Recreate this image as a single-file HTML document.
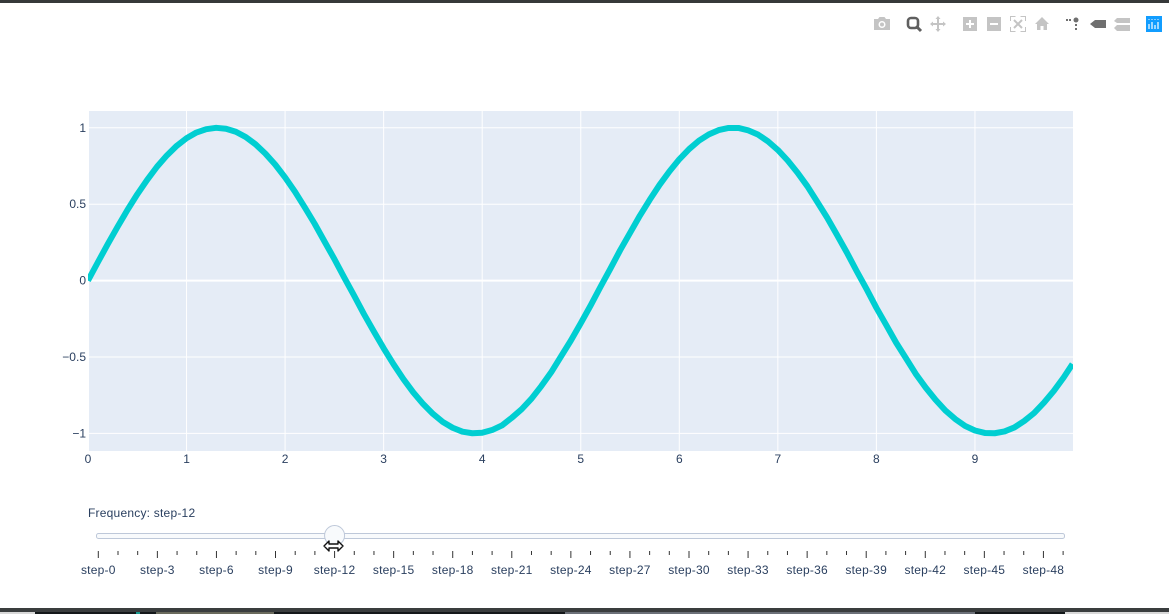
<!DOCTYPE html>
<html>
<head>
<meta charset="utf-8">
<title>Frequency slider chart</title>
<style>
html,body{margin:0;padding:0;width:1169px;height:614px;overflow:hidden;background:#fff;}
svg{display:block;position:absolute;left:0;top:0;}
text{font-family:"Liberation Sans",sans-serif;font-size:12px;fill:#2a3f5f;}
.wide{letter-spacing:0.22px;}
</style>
</head>
<body>
<svg id="chart" xmlns="http://www.w3.org/2000/svg" width="1169" height="614" viewBox="0 0 1169 614">
  <defs><clipPath id="plot-clip"><rect x="88" y="111" width="985" height="340"/></clipPath></defs>
  <rect x="0" y="0" width="1169" height="3" fill="#36393a"/>
  <rect x="0" y="608" width="1169" height="4" fill="#3a3d3e"/>
  <rect x="0" y="612" width="1169" height="2" fill="#14181a"/>
  <rect x="0" y="612" width="35" height="2" fill="#d8d8d8"/>
  <rect x="1065" y="612" width="104" height="2" fill="#d8d8d8"/>
  <rect x="136" y="612" width="4" height="2" fill="#1a9a90"/>
  <rect x="156" y="612" width="118" height="2" fill="#6a6a5c"/>
  <rect x="565" y="612" width="410" height="2" fill="#6c7078"/>
  <rect x="88" y="111" width="985" height="340" fill="#E5ECF6"/>
  <g id="grid"></g>
  <g id="series" clip-path="url(#plot-clip)"></g>
  <g id="xticks"></g>
  <g id="yticks"></g>

  <text class="wide" x="88" y="517">Frequency: step-12</text>
  <rect x="96.5" y="533.5" width="968" height="5" rx="2" fill="#f8fafc" stroke="#bec8d9" stroke-width="1"/>
  <g id="slider-steps"></g>
  <circle id="slider-handle" cx="334" cy="535.5" r="10" fill="#f8fafc" stroke="#bec8d9" stroke-width="1"/>
  <path d="M324 546 L329 541 L329 544 L338 544 L338 541 L343 546 L338 551 L338 548 L329 548 L329 551 Z" fill="#fff" stroke="#111" stroke-width="1.4" stroke-linejoin="round"/>

  <g>
    <g>
      <path d="M874 19h4l1.500-2h5l1.500 2h4v11h-16z" fill="#c4c4c4"/><circle cx="882" cy="24.500" r="3.500" fill="#fff"/><circle cx="882" cy="24.500" r="2" fill="#c4c4c4"/>
    </g>
    <g>
      <rect x="908" y="18" width="10" height="10" rx="3" fill="none" stroke="#5f5f5f" stroke-width="2.600"/><path d="M916 26l5 5" stroke="#5f5f5f" stroke-width="3"/>
    </g>
    <g>
      <path d="M938 17v14M931 24h14" stroke="#c4c4c4" stroke-width="2"/><path d="M938 16l-2.500 3h5zM938 32l-2.500-3h5zM930 24l3-2.500v5zM946 24l-3-2.500v5z" fill="#c4c4c4"/>
    </g>
    <g>
      <rect x="963" y="17" width="14" height="14" fill="#c4c4c4"/><path d="M970 20v8M966 24h8" stroke="#fff" stroke-width="2"/>
    </g>
    <g>
      <rect x="987" y="17" width="14" height="14" fill="#c4c4c4"/><path d="M990 24h8" stroke="#fff" stroke-width="2"/>
    </g>
    <g fill="none" stroke="#c4c4c4">
      <path d="M1010.500 21v-4.500h5M1020.500 16.500h5v4.500M1025.500 27v4.500h-5M1015.500 31.500h-5v-4.500"/><path d="M1014 20l8 8M1022 20l-8 8" stroke-width="2"/>
    </g>
    <g>
      <path d="M1035 24l7-7 7 7h-2v6h-3.500v-4h-3v4h-3.500v-6z" fill="#c4c4c4"/>
    </g>
    <g fill="#6f6f6f">
      <rect x="1066" y="19" width="2" height="2"/><rect x="1069" y="19" width="2" height="2"/><circle cx="1076" cy="20" r="2.500"/><rect x="1075" y="24" width="2" height="2"/><rect x="1075" y="28" width="2" height="2"/>
    </g>
    <g>
      <path d="M1090 24l5-4h11v8h-11z" fill="#6f6f6f"/>
    </g>
    <g fill="#c4c4c4">
      <path d="M1114 21l3-3h13v5h-13z"/><path d="M1114 28l3-3h13v6h-13z"/>
    </g>
    <g>
      <rect x="1146" y="16" width="16" height="16" fill="#119dff"/>
      <path d="M1149 24v5M1152 22v7M1155 25v4M1158 22v7" stroke="#fff" stroke-width="1.200"/>
      <path d="M1149 19v1M1152 19v1M1155 19v1M1158 19v1" stroke="#cde9ff" stroke-width="1.200"/>
    </g>
  </g>
</svg>
<script>
// Chart data
const xValues = [0,0.1,0.2,0.3,0.4,0.5,0.6,0.7,0.8,0.9,1.0,1.1,1.2,1.3,1.4,1.5,1.6,1.7,1.8,1.9,2.0,2.1,2.2,2.3,2.4,2.5,2.6,2.7,2.8,2.9,3.0,3.1,3.2,3.3,3.4,3.5,3.6,3.7,3.8,3.9,4.0,4.1,4.2,4.3,4.4,4.5,4.6,4.7,4.8,4.9,5.0,5.1,5.2,5.3,5.4,5.5,5.6,5.7,5.8,5.9,6.0,6.1,6.2,6.3,6.4,6.5,6.6,6.7,6.8,6.9,7.0,7.1,7.2,7.3,7.4,7.5,7.6,7.7,7.8,7.9,8.0,8.1,8.2,8.3,8.4,8.5,8.6,8.7,8.8,8.9,9.0,9.1,9.2,9.3,9.4,9.5,9.6,9.7,9.8,9.9,9.99];
const yValues = [0,0.120,0.238,0.352,0.462,0.565,0.659,0.745,0.819,0.882,0.932,0.969,0.991,1.000,0.994,0.974,0.940,0.892,0.831,0.759,0.675,0.582,0.479,0.372,0.256,0.141,0.020,-0.098,-0.219,-0.332,-0.443,-0.547,-0.644,-0.731,-0.807,-0.872,-0.925,-0.963,-0.989,-0.999,-0.996,-0.978,-0.948,-0.898,-0.842,-0.773,-0.690,-0.600,-0.496,-0.392,-0.279,-0.163,-0.041,0.077,0.199,0.312,0.425,0.529,0.627,0.715,0.794,0.861,0.916,0.957,0.985,0.999,0.999,0.983,0.955,0.911,0.855,0.786,0.706,0.617,0.515,0.412,0.299,0.184,0.062,-0.055,-0.178,-0.291,-0.406,-0.508,-0.611,-0.700,-0.780,-0.850,-0.906,-0.951,-0.981,-0.997,-0.999,-0.987,-0.961,-0.919,-0.867,-0.799,-0.722,-0.634,-0.546];
const xTicks = [0,1,2,3,4,5,6,7,8,9];
const yTicks = [1,0.5,0,-0.5,-1];
const yTickLabels = ['1','0.5','0','\u22120.5','\u22121'];
const sliderSteps = [0,1,2,3,4,5,6,7,8,9,10,11,12,13,14,15,16,17,18,19,20,21,22,23,24,25,26,27,28,29,30,31,32,33,34,35,36,37,38,39,40,41,42,43,44,45,46,47,48,49];
const sliderActive = 12;

const NS = 'http://www.w3.org/2000/svg';
function xScale(v){ return 88 + v * 98.55; }
function yScale(v){ return 280.6 - v * 152.8; }
function stepScale(i){ return 98.3 + i * 19.69; }
function make(tag, parent, attrs){
  const el = document.createElementNS(NS, tag);
  for (const k in attrs) el.setAttribute(k, attrs[k]);
  parent.appendChild(el);
  return el;
}

const grid = document.getElementById('grid');
xTicks.forEach(function(t){
  const line = make('line', grid, {x1:xScale(t), x2:xScale(t), y1:111, y2:451, stroke:'#fff', 'stroke-width': t === 0 ? 2 : 1});
  
  
});
yTicks.forEach(function(t){
  const line = make('line', grid, {x1:88, x2:1073, y1:yScale(t), y2:yScale(t), stroke:'#fff', 'stroke-width': t === 0 ? 2 : 1});
  
  
});

const xGroup = document.getElementById('xticks');
xTicks.forEach(function(t){
  const label = make('text', xGroup, {x:xScale(t), y:463, 'text-anchor':'middle'});
  label.textContent = String(t);
  
  
});
const yGroup = document.getElementById('yticks');
yTicks.forEach(function(t, i){
  const label = make('text', yGroup, {x:86, y:yScale(t) + 4, 'text-anchor':'end'});
  label.textContent = yTickLabels[i];
  
  
});

const path = xValues.map(function(x, i){
  return (i ? 'L' : 'M') + xScale(x).toFixed(2) + ' ' + yScale(yValues[i]).toFixed(2);
}).join(' ');
const curve = make('path', document.getElementById('series'), {d:path, fill:'none', stroke:'#00CED1', 'stroke-width':6, 'stroke-linejoin':'round'});



const stepGroup = document.getElementById('slider-steps');
sliderSteps.forEach(function(s){
  const major = s % 3 === 0;
  const tick = make('line', stepGroup, {x1:stepScale(s), x2:stepScale(s), y1:551, y2: major ? 558 : 555, stroke:'#333', 'stroke-width':1});
  
  
  if (major && s < 49) {
    const label = make('text', stepGroup, {x:stepScale(s), y:574, 'text-anchor':'middle', 'class':'wide'});
    label.textContent = 'step-' + s;
    
    
  }
});
document.getElementById('slider-handle').setAttribute('cx', stepScale(sliderActive));
</script>
</body>
</html>
